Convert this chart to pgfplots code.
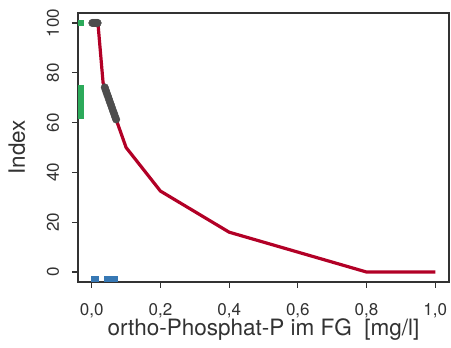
\documentclass[border=0pt]{standalone}
\usepackage{pgfplots}
\pgfplotsset{compat=1.18}
\usepackage{fontspec}
\setmainfont{TeX Gyre Heros}
\definecolor{cred}{RGB}{178,0,38}
\definecolor{cgrey}{RGB}{77,77,77}
\definecolor{cgreen}{RGB}{44,170,90}
\definecolor{cblue}{RGB}{55,120,180}
\definecolor{cbox}{RGB}{50,50,50}
\begin{document}
\begin{tikzpicture}
\begin{axis}[
  name=ax,
  scale only axis,
  width=371pt, height=269pt,
  xmin=-0.04, xmax=1.04, ymin=-4, ymax=104,
  axis line style={cbox, line width=1.1pt},
  xtick={0,0.2,0.4,0.6,0.8,1.0},
  ytick={0,20,40,60,80,100},
  xtick pos=bottom, ytick pos=left,
  tick align=outside,
  major tick length=6pt,
  tick style={cbox, line width=1.1pt},
  /pgf/number format/assume math mode=true,
  /pgf/number format/.cd, fixed, fixed zerofill, precision=1, use comma, 1000 sep={},
  /pgfplots/.cd,
  yticklabel={\pgfmathprintnumber[fixed, precision=0, fixed zerofill=false]{\tick}},
  tick label style={font=\fontsize{17}{17}\selectfont, text=cbox},
  yticklabel style={rotate=90, anchor=base, yshift=13pt},
  xticklabel style={anchor=base, yshift=-27pt},
  xlabel={ortho-Phosphat-P im FG\ \ [mg/l]},
  ylabel={Index},
  label style={font=\fontsize{22.5}{22.5}\selectfont, text=cbox},
  xlabel style={at={(axis description cs:0.5,0)}, anchor=base, yshift=-53pt},
  ylabel style={at={(axis description cs:0,0.5)}, anchor=base, yshift=53pt},
  clip=false,
]
% index curve
\addplot[cred, line width=3.2pt, line join=round] coordinates {
 (0,100) (0.018,100) (0.033,76) (0.1,50) (0.2,32.5) (0.4,16) (0.8,0) (1.0,0)
};
% grey observations
\addplot[only marks, mark=*, mark size=3.8pt, cgrey, mark options={draw=cgrey, fill=cgrey}] coordinates {
 (0.002,100) (0.005,100) (0.008,100) (0.011,100) (0.014,100) (0.017,100)
 (0.038,74.1) (0.041,72.9) (0.044,71.7) (0.047,70.6) (0.050,69.4) (0.053,68.2)
 (0.056,67.1) (0.059,65.9) (0.062,64.7) (0.065,63.6) (0.068,62.4) (0.071,61.3)
};
% green rug on y
\addplot[only marks, mark=square*, mark size=2.3pt, cgreen, mark options={draw=cgreen, fill=cgreen}] coordinates {
 (-0.033,100) (-0.033,74) (-0.033,72) (-0.033,70) (-0.033,68) (-0.033,66) (-0.033,64) (-0.033,62.5)
};
% blue rug on x
\addplot[only marks, mark=square*, mark size=2.8pt, cblue, mark options={draw=cblue, fill=cblue}] coordinates {
 (0.008,-2.6) (0.011,-2.6) (0.043,-2.6) (0.049,-2.6) (0.055,-2.6) (0.061,-2.6) (0.066,-2.6)
};
\end{axis}
\pgfresetboundingbox
\path[use as bounding box] ([xshift=-78pt,yshift=-65pt]ax.south west) rectangle ([xshift=2pt,yshift=13pt]ax.north east);
\end{tikzpicture}
\end{document}
